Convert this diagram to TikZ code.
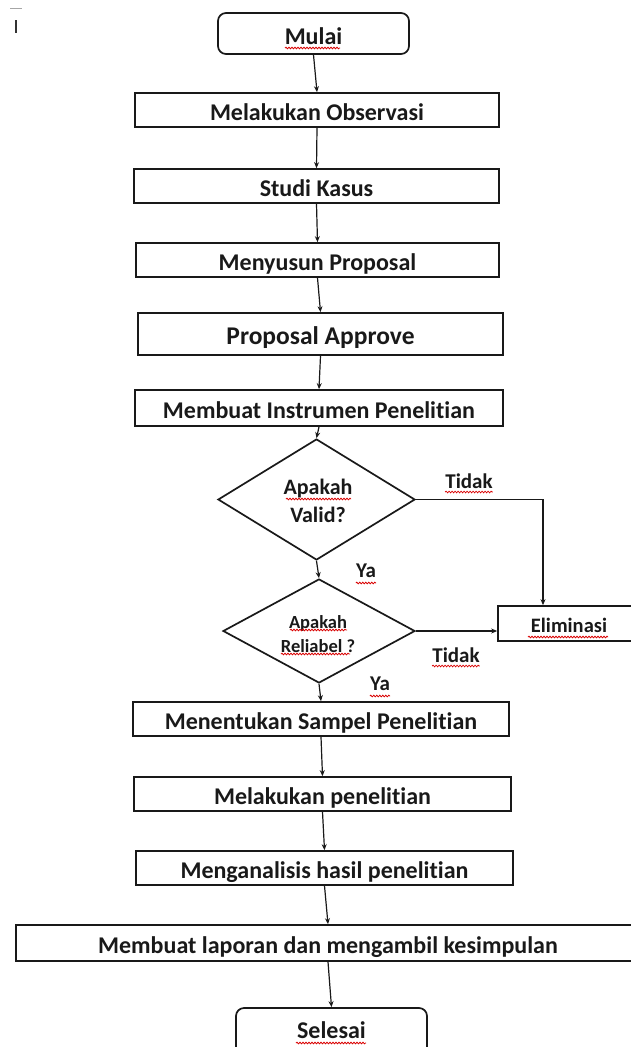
\documentclass[tikz,border=0pt]{standalone}
\usepackage{fontspec}
\setmainfont{Carlito}[Ligatures=NoCommon]
\usetikzlibrary{shapes.geometric,arrows.meta,decorations.pathmorphing}
\begin{document}
\begin{tikzpicture}[x=1pt,y=-1pt,
  box/.style={draw=black!90, line width=1.7pt, inner sep=0pt, text height=21pt, text depth=0pt,
    font=\bfseries\fontsize{24}{26}\selectfont, text=black!90},
  term/.style={box, rounded corners=8pt},
  dia/.style={draw=black!90, line width=1.7pt, diamond, inner sep=0pt},
  dtext/.style={align=center, inner sep=0pt, text=black!90},
  lbl/.style={anchor=base, inner sep=0pt, font=\bfseries\fontsize{21}{24}\selectfont, text=black!90},
  arr/.style={draw=black!90, line width=1.2pt, -{Stealth[length=6pt,width=5pt]}},
  squig/.style={draw=red!85!black, line width=0.8pt, decorate,
    decoration={snake, segment length=3pt, amplitude=0.8pt}}
]
\useasboundingbox (0,0) rectangle (631,1047);

% cursor marks
\draw[gray!70, line width=1pt] (10,8) -- (22,8);
\draw[black!80, line width=1.2pt] (16,20) -- (16,33);

\node[term, minimum width=191pt, minimum height=41pt] (mulai) at (313.5,33.5) {Mulai};
\node[box, minimum width=364pt, minimum height=34pt] (obs) at (317,110) {Melakukan Observasi};
\node[box, minimum width=365pt, minimum height=34pt] (studi) at (316.5,186) {Studi Kasus};
\node[box, minimum width=363pt, minimum height=34pt] (susun) at (317.5,260) {Menyusun Proposal};
\node[box, minimum width=365pt, minimum height=42pt, font=\bfseries\fontsize{25.5}{28}\selectfont] (appr) at (320.5,334) {Proposal Approve};
\node[box, minimum width=368pt, minimum height=36pt] (instr) at (319,408) {Membuat Instrumen Penelitian};

\node[dia, minimum width=197pt, minimum height=121pt] (d1) at (316.5,499.5) {};
\node[dtext, font=\bfseries\fontsize{22}{28}\selectfont] (d1t) at (318,501) {Apakah\\Valid?};
\node[dia, minimum width=192pt, minimum height=104pt] (d2) at (319,631) {};
\node[dtext, font=\bfseries\fontsize{18.5}{24}\selectfont] (d2t) at (318,634) {Apakah\\Reliabel ?};

\node[box, minimum width=142pt, minimum height=35pt, text height=17pt, font=\bfseries\fontsize{20.5}{24}\selectfont] (elim) at (569,623.5) {Eliminasi};

\node[box, minimum width=376pt, minimum height=34pt] (sampel) at (321,719) {Menentukan Sampel Penelitian};
\node[box, minimum width=377pt, minimum height=34pt] (lakukan) at (322.5,794) {Melakukan penelitian};
\node[box, minimum width=377pt, minimum height=34pt] (analisis) at (324.5,868) {Menganalisis hasil penelitian};
\node[box, minimum width=624pt, minimum height=36pt] (lapor) at (328,943) {Membuat laporan dan mengambil kesimpulan};
\node[term, minimum width=191pt, minimum height=50pt, text height=10pt] (selesai) at (331.5,1033) {Selesai};

\node[lbl] (tidak1) at (469,488) {Tidak};
\node[lbl] (ya1) at (366,577) {Ya};
\node[lbl] (tidak2) at (456,662) {Tidak};
\node[lbl] (ya2) at (380,690) {Ya};

% spell-check underlines
\draw[squig] (285,48) -- (340,48);
\draw[squig] (286,499) -- (351,499);
\draw[squig] (290,630) -- (347,630);
\draw[squig] (281,654) -- (350,654);
\draw[squig] ([yshift=-4pt]tidak1.base west) -- ([yshift=-4pt]tidak1.base east);
\draw[squig] ([yshift=-4pt]tidak2.base west) -- ([yshift=-4pt]tidak2.base east);
\draw[squig] ([yshift=-6pt]ya1.base west) -- ([yshift=-6pt]ya1.base east);
\draw[squig] ([yshift=-6pt]ya2.base west) -- ([yshift=-6pt]ya2.base east);
\draw[squig] (528,637) -- (608,637);
\draw[squig] (296,1043) -- (366,1043);

\draw[arr] (mulai.south) -- (obs.north);
\draw[arr] (obs.south) -- (studi.north);
\draw[arr] (studi.south) -- (susun.north);
\draw[arr] (susun.south) -- (appr.north);
\draw[arr] (appr.south) -- (instr.north);
\draw[arr] (instr.south) -- (d1.north);
\draw[arr] (d1.south) -- (d2.north);
\draw[arr] (d2.south) -- (sampel.north);
\draw[arr] (sampel.south) -- (lakukan.north);
\draw[arr] (lakukan.south) -- (analisis.north);
\draw[arr] (analisis.south) -- (lapor.north);
\draw[arr] (lapor.south) -- (selesai.north);
\draw[arr] (d1.east) -| ([xshift=-26pt]elim.north);
\draw[arr] (d2.east) -- (d2.east -| elim.west);
\end{tikzpicture}
\end{document}
